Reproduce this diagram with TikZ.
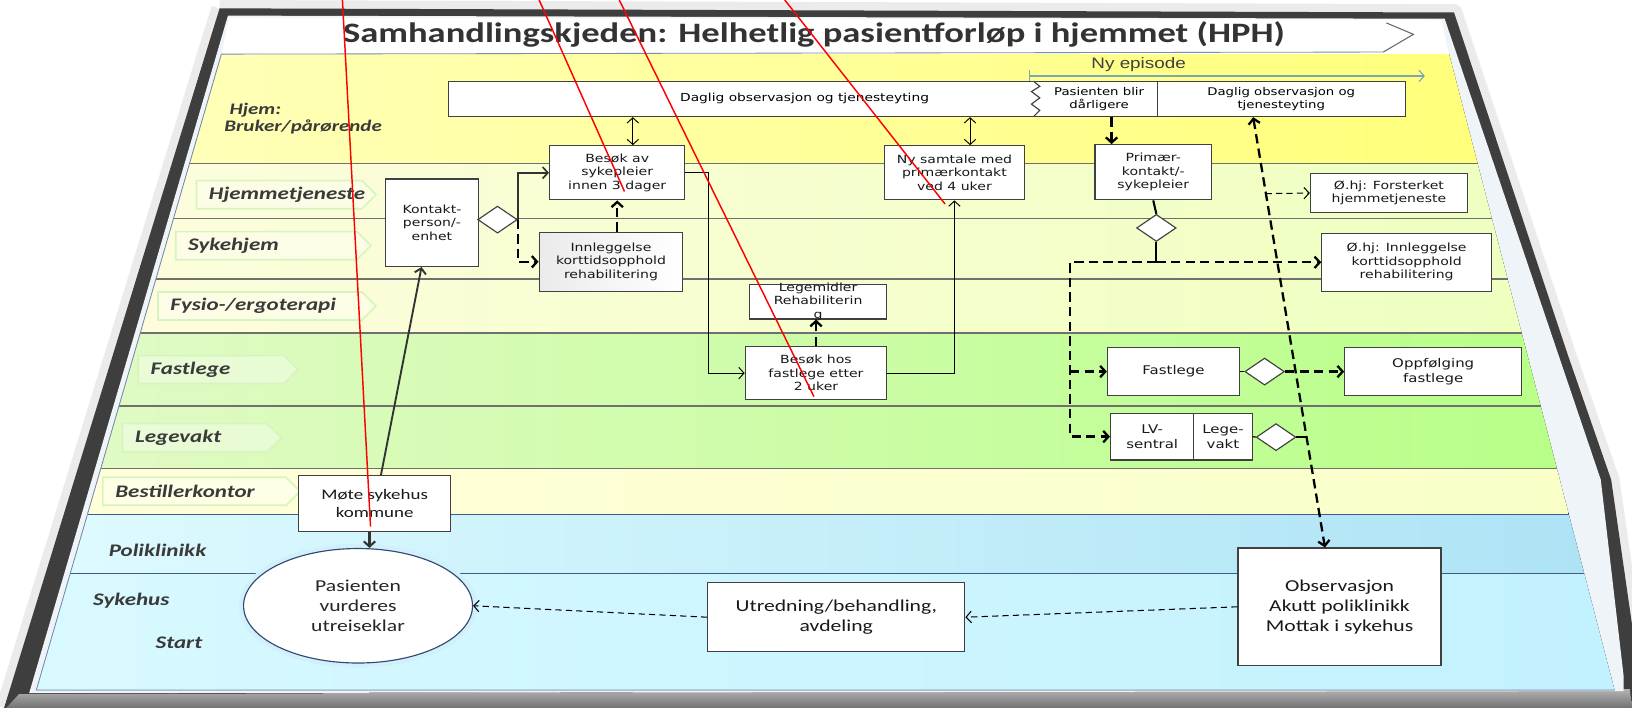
\documentclass[tikz,border=0pt]{standalone}
\usepackage{fontspec}
\setmainfont{Carlito}[FakeStretch=1.3]
\newfontfamily\dv{DejaVu Sans}[FakeStretch=1.25]
\newfontfamily\ar{Liberation Sans}[FakeStretch=1.25]
\usetikzlibrary{shapes.geometric,shapes.symbols,arrows.meta}
\definecolor{framecol}{HTML}{3E3E3E}
\definecolor{panel}{HTML}{EEF4F8}
\definecolor{hjemL}{HTML}{FFFFB8}
\definecolor{hjemR}{HTML}{FFFF7A}
\definecolor{paleL}{HTML}{FDFDDC}
\definecolor{paleR}{HTML}{EEFFC0}
\definecolor{greenL}{HTML}{E0FAC4}
\definecolor{greenR}{HTML}{B8FF88}
\definecolor{bestL}{HTML}{FFFFDA}
\definecolor{bestR}{HTML}{FAFFC8}
\definecolor{polL}{HTML}{DDFAFF}
\definecolor{polR}{HTML}{AEE3F5}
\definecolor{sykL}{HTML}{D8F9FF}
\definecolor{sykR}{HTML}{C2F1FF}
\definecolor{laneline}{HTML}{707070}
\definecolor{blueline}{HTML}{3D5C8C}
\definecolor{epi}{HTML}{7BA6B6}
\definecolor{tagline}{HTML}{D6F5BE}
\definecolor{ink}{HTML}{3A3A3A}

\begin{document}
\begin{tikzpicture}[x=1pt,y=-1pt,>={Straight Barb[length=5pt,width=11pt]},
    box/.style={rectangle,draw=black!75,line width=1.1pt,fill=white,align=center,inner sep=1pt,
        font=\dv\fontsize{10.8}{13}\selectfont,text=black!90},
    cbox/.style={box,font=\fontsize{16}{19}\selectfont},
    dia/.style={diamond,draw=black!75,line width=1.1pt,fill=white,minimum width=38pt,minimum height=26pt,inner sep=0pt},
    tag/.style={signal,signal to=east,draw=tagline,line width=1.6pt,fill=white,fill opacity=0.35,text opacity=1,
        anchor=west,minimum height=27pt,inner xsep=12pt,font=\fontsize{17}{19}\selectfont\bfseries\itshape,text=ink},
    lbl/.style={anchor=west,font=\fontsize{17}{19}\selectfont\bfseries\itshape,text=ink},
    dashthick/.style={line width=2.2pt,dash pattern=on 9pt off 5pt},
    thindash/.style={line width=1pt,dash pattern=on 6pt off 4pt},
    redline/.style={red,line width=1.4pt}]
\useasboundingbox (0,0) rectangle (1568,680);
\draw[black!8,line width=16pt,line join=round] (211,8) -- (1397,12) -- (1506,340) -- (1548,461) -- (1568,600);
\draw[black!8,line width=16pt,line join=round] (211,8) -- (4,680);
\fill[framecol] (211,8) -- (1397,12) -- (1506,340) -- (1548,461) -- (1568,600) -- (1568,680) -- (4,680) -- cycle;
\fill[top color=black!30,bottom color=black!55] (18,667) -- (1566,662) -- (1568,680) -- (6,680) -- cycle;
\fill[panel] (219,15) -- (1388,18) -- (1497,340) -- (1538,461) -- (1560,650) -- (1560,664) -- (28,666) -- cycle;
\fill[white] (220,17) -- (1385,19) -- (1392,52) -- (212.7,52) -- cycle;
\draw[black!60,line width=1pt] (1332,22) -- (1358,33) -- (1329,50);
\fill[left color=hjemL,right color=hjemR] (212.7,52) -- (1392.3,52) -- (1419.6,157) -- (182.1,157) -- cycle;
\fill[left color=paleL,right color=paleR] (182.1,157) -- (1419.6,157) -- (1462,320) -- (134.7,320) -- cycle;
\fill[left color=greenL,right color=greenR] (134.7,320) -- (1462,320) -- (1495.8,450) -- (96.9,450) -- cycle;
\fill[left color=bestL,right color=bestR] (96.9,450) -- (1495.8,450) -- (1507.2,494) -- (84.1,494) -- cycle;
\fill[left color=polL,right color=polR] (84.1,494) -- (1507.2,494) -- (1522.1,551) -- (67.5,551) -- cycle;
\fill[left color=sykL,right color=sykR] (67.5,551) -- (1522.1,551) -- (1551.2,663) -- (34.9,663) -- cycle;
\draw[laneline,line width=1.2pt] (182.1,157) -- (1419.6,157) (166.7,210) -- (1433.4,210)
    (149.8,268) -- (1448.5,268) (134.7,320) -- (1462,320) (114.3,390) -- (1480.2,390)
    (96.9,450) -- (1495.8,450);
\draw[blueline,line width=1.2pt] (84.1,494) -- (1507.2,494) (67.5,551) -- (1522.1,551);
\draw[blueline!70,line width=0.8pt] (1329,50) -- (212.7,52) -- (34.9,663) -- (1551.2,663);

\node[font=\fontsize{27}{30}\selectfont\bfseries,text=black!80] (tit) at (782,33)
    {Samhandlingskjeden: Helhetlig pasientforløp i hjemmet (HPH)};

\node[lbl,align=left,font=\fontsize{15.5}{17}\selectfont\bfseries\itshape] (hjem) at (212,114) {\hspace{5pt}Hjem:\\Bruker/pårørende};
\node[tag,text width=135pt] (thj) at (188,187) {Hjemmetjeneste};
\node[tag,text width=150pt] (tsyk) at (168,236) {Sykehjem};
\node[tag,text width=172pt] (tfys) at (151,294) {Fysio-/ergoterapi};
\node[tag,text width=116pt] (tfast) at (132,355) {Fastlege};
\node[tag,text width=115pt] (tlv) at (117,420.5) {Legevakt};
\node[tag,text width=152pt] (tbest) at (98,472) {Bestillerkontor};
\node[lbl] (tpol) at (101,529) {Poliklinikk};
\node[lbl] (tsh) at (86,577) {Sykehus};
\node[lbl] (tstart) at (146,618) {Start};

\node[font=\ar\fontsize{14.5}{16}\selectfont,text=black!75] (ny) at (1094,62) {Ny episode};
\coordinate (ep0) at (989,73);
\coordinate (ep1) at (1369,73);
\draw[epi,line width=1pt,->] (ep0) -- (ep1);
\draw[epi,line width=1pt] ([yshift=6pt]ep0) -- ([yshift=-7pt]ep0);

\node[box,minimum width=919pt,minimum height=34pt] (dagbar) at (890.5,95) {};
\draw[black!75,line width=1.1pt,fill=white] (993,78) -- (999,83) -- (991,88) -- (999,94) -- (991,100) -- (999,106) -- (993,112);
\draw[black!75,line width=1.1pt] (1112,78) -- (1112,112);
\node[font=\dv\fontsize{10.6}{12.5}\selectfont] (dagt) at (773,95) {Daglig observasjon og tjenesteyting};
\node[font=\dv\fontsize{10.2}{12.5}\selectfont,align=center] (pas) at (1056,95) {Pasienten blir\\dårligere};
\node[font=\dv\fontsize{10.2}{12.5}\selectfont,align=center] (dag2) at (1231,95) {Daglig observasjon og\\tjenesteyting};

\node[box,minimum width=90pt,minimum height=84pt] (kont) at (415,214) {Kontakt-\\person/-\\enhet};
\node[dia] (d1) at (478,211) {};
\node[box,minimum width=130pt,minimum height=52pt] (besok) at (593,166) {Besøk av\\sykepleier\\innen 3 dager};
\node[box,minimum width=138pt,minimum height=57pt,left color=black!8,right color=white] (inn) at (587,251.5)
    {Innleggelse\\korttidsopphold\\rehabilitering};
\node[box,minimum width=132pt,minimum height=33pt,inner ysep=-4pt] (leg) at (786,290) {Legemidler\\Rehabiliterin\\g};
\node[box,minimum width=136pt,minimum height=51pt] (bfast) at (784,358.5) {Besøk hos\\fastlege etter\\2 uker};
\node[box,minimum width=134pt,minimum height=52pt] (nysam) at (917,166) {Ny samtale med\\primærkontakt\\ved 4 uker};
\node[box,minimum width=112pt,minimum height=53pt] (prim) at (1108,165.5) {Primær-\\kontakt/-\\sykepleier};
\node[dia] (d2) at (1111,219) {};
\node[box,minimum width=151pt,minimum height=37pt] (ohj1) at (1334.5,185.5) {Ø.hj: Forsterket\\hjemmetjeneste};
\node[box,minimum width=163pt,minimum height=56pt] (ohj2) at (1351.5,252) {Ø.hj: Innleggelse\\korttidsopphold\\rehabilitering};
\node[box,minimum width=127pt,minimum height=46pt,font=\dv\fontsize{11.5}{14}\selectfont] (fast) at (1127.5,357) {Fastlege};
\node[dia] (d3) at (1215,357) {};
\node[box,minimum width=170pt,minimum height=46pt,font=\dv\fontsize{11.5}{14}\selectfont] (opp) at (1377,357) {Oppfølging\\fastlege};
\node[box,minimum width=80pt,minimum height=45pt,font=\dv\fontsize{11.5}{15}\selectfont] (lvs) at (1107,419.5) {LV-\\sentral};
\node[box,minimum width=56pt,minimum height=45pt,font=\dv\fontsize{11.5}{15}\selectfont] (lvv) at (1175,419.5) {Lege-\\vakt};
\node[dia] (d4) at (1226,420) {};
\node[cbox,minimum width=146pt,minimum height=54pt,font=\fontsize{14}{17}\selectfont] (mote) at (360,484) {Møte sykehus\\kommune};
\node[ellipse,draw=blueline!80!black,line width=1.1pt,fill=white,minimum width=220pt,minimum height=110pt,
    preaction={draw=cyan!18,line width=9pt},
    align=center,font=\fontsize{16}{19}\selectfont,text=black!85] (ell) at (344,582) {Pasienten\\vurderes\\utreiseklar};
\node[cbox,minimum width=247pt,minimum height=66pt] (utr) at (803.5,593) {Utredning/behandling,\\avdeling};
\node[cbox,minimum width=195pt,minimum height=113pt] (obs) at (1287,583) {Observasjon\\Akutt poliklinikk\\Mottak i sykehus};

\draw[line width=0.9pt,<->] ([xshift=15pt]besok.north) -- ([xshift=15pt]besok.north |- dagbar.south);
\draw[line width=0.9pt,<->] ([xshift=15pt]nysam.north) -- ([xshift=15pt]nysam.north |- dagbar.south);
\draw[line width=1.8pt,black!80,->] ([xshift=6pt]mote.north) -- ([xshift=-10pt]kont.south);
\draw[line width=1.6pt,black!80,->] (d1.east) |- (besok.west);
\draw[dashthick,->] (d1.east) |- (inn.west);
\draw[dashthick,->] (besok.south |- inn.north) -- (besok.south);
\draw[line width=0.9pt,->] (besok.east) -- ++(22,0) |- (bfast.west);
\draw[dashthick,->] (bfast.north) -- (bfast.north |- leg.south);
\draw[line width=0.9pt,->] (bfast.east) -| (nysam.south);
\draw[dashthick,->] ([xshift=-40pt]prim.north |- dagbar.south) -- ([xshift=-40pt]prim.north);
\draw[line width=2pt] (prim.south) -- (d2.north);
\coordinate (j1) at (d2.south |- ohj2.west);
\coordinate (j2) at (1028,252);
\draw[line width=2pt] (d2.south) -- (j1);
\draw[dashthick,->] (j1) -- (ohj2.west);
\draw[dashthick,->] (j1) -- (j2) |- (lvs.west);
\draw[dashthick,->] (j2 |- fast.west) -- (fast.west);
\draw[dashthick,<->] ([xshift=-27pt]dag2 |- dagbar.south) -- ([xshift=-14pt]obs.north);
\coordinate (j3) at (1255,420);
\coordinate (j4) at (1216,186);
\draw[line width=1.6pt] (d4.east) -- (j3);
\draw[line width=1.2pt] (lvv.east) -- (d4.west);
\draw[line width=1.2pt] (fast.east) -- (d3.west);
\draw[dashthick,->] (d3.east) -- (opp.west);
\draw[thindash,->] (j4) -- (ohj1.west);
\draw[line width=2pt,black!80,->] ([xshift=-5pt]mote.south) -- ([xshift=-5pt]mote.south |- ell.north);
\draw[thindash,->] (utr.west) -- (ell.east);
\draw[thindash,->] (obs.west) -- (utr.east);

\coordinate (r1a) at (329,0);
\coordinate (r1b) at (356,506);
\coordinate (r2a) at (518,0);
\coordinate (r2b) at (600,184);
\coordinate (r3a) at (595,0);
\coordinate (r3b) at (782,381);
\coordinate (r4a) at (754,0);
\coordinate (r4b) at (908,196);
\draw[redline] (r1a) -- (r1b);
\draw[redline] (r2a) -- (r2b);
\draw[redline] (r3a) -- (r3b);
\draw[redline] (r4a) -- (r4b);
\end{tikzpicture}
\end{document}
